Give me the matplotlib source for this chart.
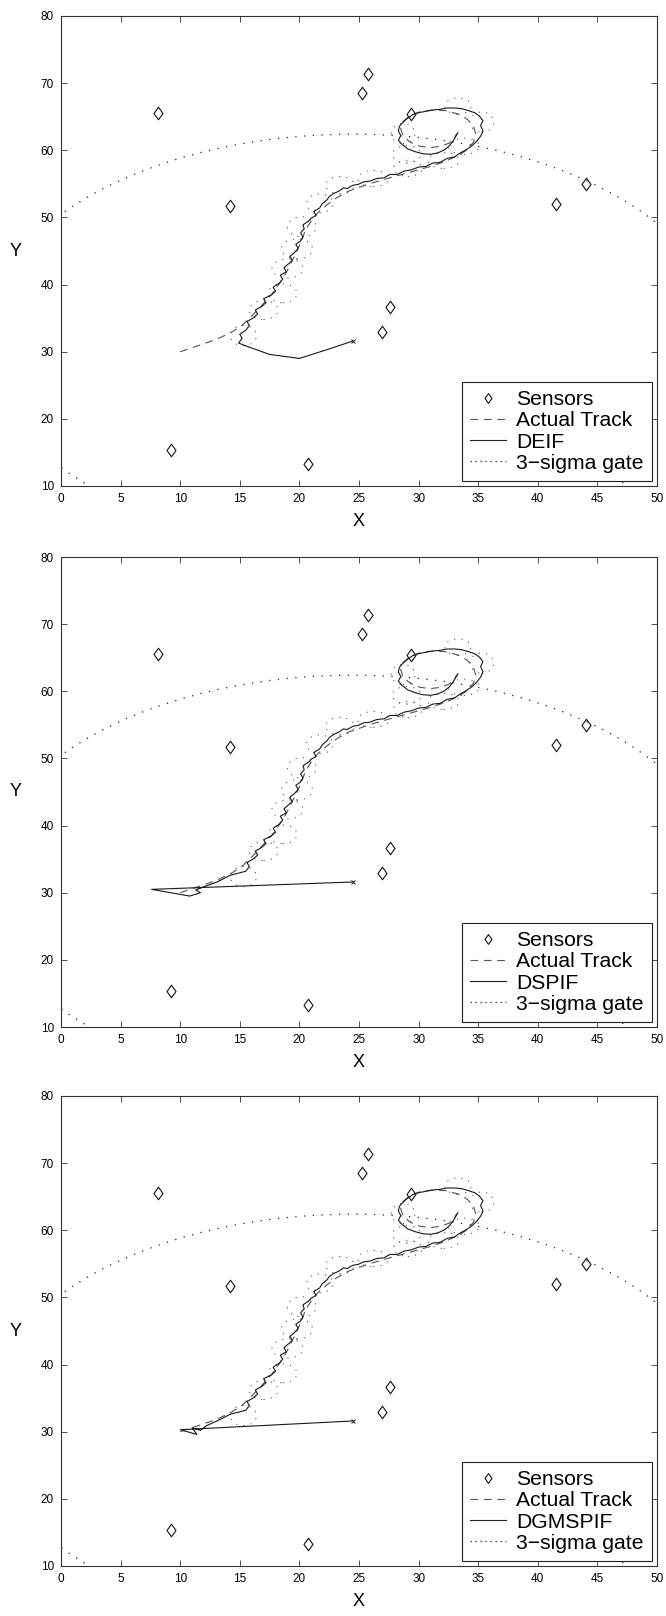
import matplotlib
matplotlib.use("Agg")
import matplotlib.pyplot as plt
from matplotlib.patches import Ellipse
from matplotlib.lines import Line2D
from matplotlib.path import Path

plt.rcParams['font.family'] = ['Liberation Sans', 'DejaVu Sans']

# Sensor positions
sensor_x = [8.13, 25.75, 25.25, 29.35, 14.2, 41.55, 44.04, 27.57, 26.96, 9.27, 20.72]
sensor_y = [65.5, 71.3, 68.5, 65.4, 51.7, 52.05, 55.0, 36.6, 33.0, 15.3, 13.3]

# True target trajectory
actual_x = [10.0, 11.5, 13.0, 14.3, 15.3, 16.1, 16.9, 17.7, 18.35, 18.9, 19.35, 19.8,
            20.2, 20.5, 21.0, 21.6, 22.4, 23.2, 24.1, 25.2, 26.4, 27.6, 28.8, 30.0,
            31.2, 32.3, 33.3, 34.1, 34.6, 34.8, 34.6, 34.1, 33.3, 32.3, 31.2, 30.2,
            29.3, 28.7, 28.5, 28.7, 29.3, 30.1, 31.0, 31.9, 32.6, 33.0, 33.2]
actual_y = [30.0, 30.9, 31.8, 32.9, 34.1, 35.5, 37.0, 38.6, 40.2, 41.8, 43.4, 45.0,
            46.6, 48.1, 49.5, 50.8, 52.0, 53.0, 53.9, 54.6, 55.3, 55.9, 56.5, 57.1,
            57.7, 58.4, 59.2, 60.1, 61.2, 62.4, 63.6, 64.6, 65.4, 65.9, 66.0, 65.8,
            65.2, 64.3, 63.2, 62.1, 61.2, 60.6, 60.4, 60.6, 61.1, 61.8, 62.5]

# Estimated trajectory after convergence (common to all filters)
est_body_x = [14.9, 15.2, 15.0, 15.5, 15.8, 15.6, 16.1, 16.5, 16.3, 16.8,
              17.2, 17.0, 17.6, 18.0, 17.8, 18.3, 18.6, 18.4, 18.9, 18.7,
              19.1, 19.4, 19.2, 19.6, 19.9, 19.7, 20.1, 20.3, 20.1, 20.4,
              20.3, 20.8, 21.0, 21.4, 21.2, 21.7, 21.9, 22.3, 22.5, 22.9,
              23.3, 23.7, 24.0, 24.5, 24.9, 25.4, 25.9, 26.5, 27.1, 27.6,
              28.2, 28.8, 29.4, 30.0, 30.6, 31.2, 31.8, 32.4, 33.0, 33.5,
              34.0, 34.5, 34.9, 35.2, 35.4, 35.2, 35.4, 35.1, 34.7, 34.2,
              33.6, 33.0, 32.4, 31.8, 31.2, 30.6, 30.0, 29.5, 29.1, 28.7,
              28.4, 28.3, 28.5, 28.3, 28.6, 29.1, 29.7, 30.3, 31.0, 31.6,
              32.2, 32.6, 32.9, 33.1, 33.3]
est_body_y = [31.3, 32.0, 32.6, 33.2, 33.9, 34.5, 35.0, 35.6, 36.2, 36.7,
              37.3, 37.9, 38.4, 39.0, 39.6, 40.2, 40.8, 41.4, 41.9, 42.5,
              43.1, 43.6, 44.2, 44.8, 45.4, 46.0, 46.5, 47.1, 47.7, 48.3,
              48.9, 49.5, 49.9, 50.3, 50.9, 51.4, 52.0, 52.6, 53.1, 53.6,
              53.9, 54.4, 54.3, 54.8, 54.9, 55.3, 55.4, 55.8, 55.9, 56.4,
              56.4, 56.9, 57.1, 57.5, 57.6, 58.1, 58.2, 58.8, 59.0, 59.6,
              60.1, 60.7, 61.4, 62.1, 62.9, 63.7, 64.4, 65.1, 65.6, 65.9,
              66.2, 66.3, 66.3, 66.1, 66.0, 65.8, 65.6, 65.3, 64.8, 64.2,
              63.6, 62.9, 62.2, 61.5, 60.9, 60.2, 59.8, 59.5, 59.4, 59.6,
              60.1, 60.7, 61.4, 62.0, 62.6]

# Initial transients of each filter
deif_head_x = [24.5, 22.3, 20.0, 17.5, 15.3]
deif_head_y = [31.6, 30.3, 29.0, 29.6, 31.0]
dspif_head_x = [24.5, 7.6, 10.8, 11.7, 11.3, 12.0, 13.1, 14.2]
dspif_head_y = [31.6, 30.5, 29.5, 30.0, 30.4, 30.9, 31.6, 32.6]
dgmspif_head_x = [24.5, 10.0, 11.4, 11.0, 11.7, 12.2, 13.1, 14.2]
dgmspif_head_y = [31.6, 30.3, 29.6, 30.6, 30.2, 30.9, 31.6, 32.6]

# Initial 3-sigma gate (centre, full width, full height)
gate0_center = (24.5, 31.6)
gate0_width = 62.0
gate0_height = 61.6

# Local 3-sigma gates along the track
gate_cx = [15.3, 17.0, 18.6, 19.0, 19.8, 20.2, 21.7, 23.4, 26.2, 29.1, 32.1, 29.0, 35.3, 33.3, 33.8, 28.7]
gate_cy = [32.4, 36.2, 38.7, 42.4, 45.3, 48.6, 52.1, 54.8, 55.8, 57.3, 58.5, 59.4, 64.2, 66.6, 60.6, 62.5]
gate_w = [2.2, 2.4, 2.4, 2.6, 2.6, 2.4, 2.2, 2.4, 2.6, 2.4, 2.6, 2.4, 2.0, 2.2, 2.6, 2.0]
gate_h = [3.0, 2.8, 2.8, 2.8, 3.0, 3.0, 2.8, 2.6, 2.4, 2.4, 2.4, 2.6, 3.0, 2.4, 2.4, 3.0]

filters = [
    ("DEIF", deif_head_x + est_body_x, deif_head_y + est_body_y),
    ("DSPIF", dspif_head_x + est_body_x[3:], dspif_head_y + est_body_y[3:]),
    ("DGMSPIF", dgmspif_head_x + est_body_x[3:], dgmspif_head_y + est_body_y[3:]),
]

# Open diamond, a little taller than wide
diamond = Path([(0, 1), (0.72, 0), (0, -1), (-0.72, 0), (0, 1)],
               [Path.MOVETO, Path.LINETO, Path.LINETO, Path.LINETO, Path.CLOSEPOLY])

W, H = 666, 1616
fig = plt.figure(figsize=(W / 100, H / 100), dpi=100)
fig.patch.set_facecolor('white')

ax_left, ax_w, ax_h = 61, 596, 470
ax_tops = [16, 557, 1096]

spine_col = '#333333'

for (name, ex, ey), top in zip(filters, ax_tops):
    ax = fig.add_axes([ax_left / W, (H - top - ax_h) / H, ax_w / W, ax_h / H])

    ax.add_patch(Ellipse(gate0_center, gate0_width, gate0_height, fill=False,
                         edgecolor='#222222', linewidth=0.9, linestyle=(0, (1, 6))))
    for cx, cy, w, h in zip(gate_cx, gate_cy, gate_w, gate_h):
        ax.add_patch(Ellipse((cx, cy), w, h, fill=False, edgecolor='#444444',
                             linewidth=0.75, linestyle=(0, (1, 6))))

    ax.plot(sensor_x, sensor_y, linestyle='none', marker=diamond, markersize=9,
            markerfacecolor='none', markeredgecolor='#111111', markeredgewidth=0.8)
    ax.plot(actual_x, actual_y, color='#555555', linewidth=0.8, dashes=(7, 5))
    ax.plot(ex, ey, color='#1a1a1a', linewidth=0.8)
    ax.plot(ex[:1], ey[:1], linestyle='none', marker='x', markersize=3,
            color='#222222', markeredgewidth=0.7)

    ax.set_xlim(0, 50)
    ax.set_ylim(10, 80)
    ax.set_xticks(range(0, 51, 5))
    ax.set_yticks(range(10, 81, 10))
    ax.tick_params(direction='in', length=4, width=0.6, colors=spine_col,
                   labelcolor='black', labelsize=8.5, top=True, right=True, pad=5)
    for sp in ax.spines.values():
        sp.set_color(spine_col)
        sp.set_linewidth(0.8)

    ax.set_xlabel('X', fontsize=13, labelpad=6)
    ax.set_ylabel('Y', fontsize=13, rotation=0, labelpad=18, va='center')

    handles = [
        Line2D([], [], linestyle='none', marker=diamond, markersize=7,
               markerfacecolor='none', markeredgecolor='#111111', markeredgewidth=0.8),
        Line2D([], [], color='#555555', linewidth=0.8, dashes=(7, 5)),
        Line2D([], [], color='#222222', linewidth=0.8),
        Line2D([], [], color='#222222', linewidth=0.9, linestyle=(0, (1, 3))),
    ]
    labels = ['Sensors', 'Actual Track', name, '3\u2212sigma gate']
    leg = ax.legend(handles, labels, loc='lower right', fontsize=15.2,
                    frameon=True, fancybox=False, framealpha=1,
                    edgecolor='#222222', borderaxespad=0.25, labelspacing=0.1,
                    handlelength=1.7, handletextpad=0.5, borderpad=0.38)
    leg.get_frame().set_linewidth(0.8)

fig.savefig('out.png', dpi=100, facecolor='white')
